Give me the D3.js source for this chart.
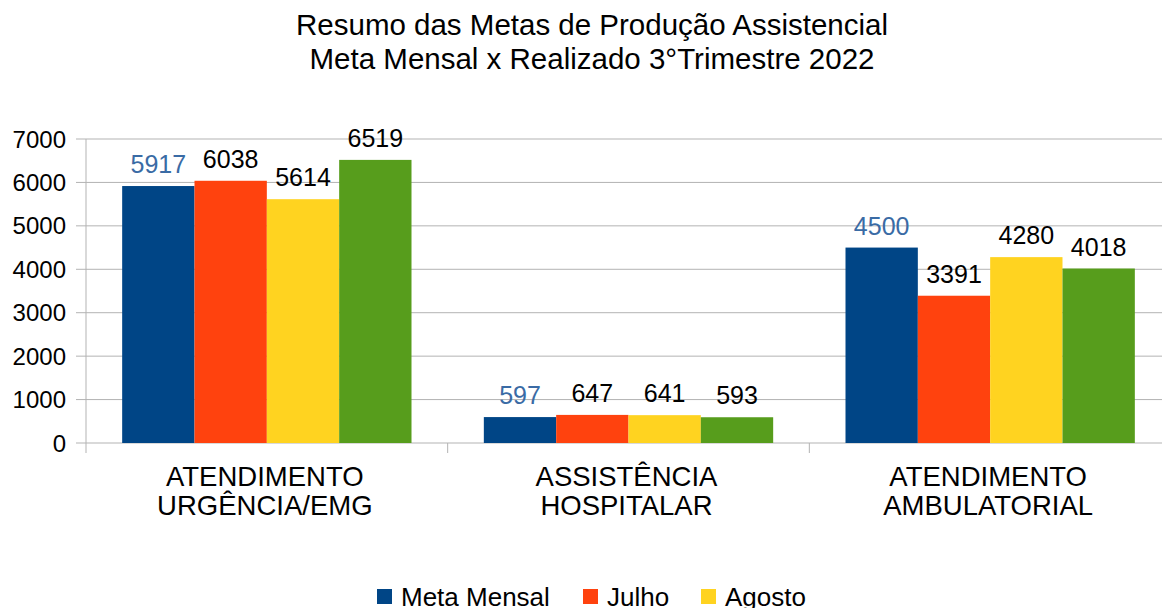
<!DOCTYPE html>
<html>
<head>
<meta charset="utf-8">
<script src="https://cdn.jsdelivr.net/npm/d3@7"></script>
<style>
  body { margin: 0; background: #fff; }
  text { font-family: "Liberation Sans", Arial, sans-serif; }
</style>
</head>
<body>
<div id="container"></div>
<script>
const titleLines = ["Resumo das Metas de Produção Assistencial", "Meta Mensal x Realizado 3°Trimestre 2022"]
const categories = [["ATENDIMENTO", "URGÊNCIA/EMG"], ["ASSISTÊNCIA", "HOSPITALAR"], ["ATENDIMENTO", "AMBULATORIAL"]]
const seriesNames = ["Meta Mensal", "Julho", "Agosto", "Setembro"]
const metaMensal = [5917, 597, 4500]
const julho = [6038, 647, 3391]
const agosto = [5614, 641, 4280]
const setembro = [6519, 593, 4018]
const yTicks = [0, 1000, 2000, 3000, 4000, 5000, 6000, 7000]

const colors = ["#004586", "#ff420e", "#ffd320", "#579d1c"]
const labelColors = ["#3a6ba5", "#000", "#000", "#000"]

const width = 1162, height = 608
const margin = { top: 139, left: 86, bottom: 165 }
const plotRight = 1171

const svg = d3.select('#container').append('svg')
    .attr('width', width).attr('height', height)

// title
svg.append("g").selectAll("text").data(titleLines).join("text")
    .attr("x", 592).attr("y", (d, i) => 35 + i * 34)
    .attr("text-anchor", "middle")
    .attr("font-size", 29.5)
    .text(d => d)

const y = d3.scaleLinear().domain([0, 7000]).range([height - margin.bottom, margin.top])
const x0 = d3.scaleBand().domain(d3.range(categories.length)).range([margin.left, plotRight])
const bw = x0.bandwidth()
const x1 = d3.scaleBand().domain(d3.range(seriesNames.length)).range([bw * 0.1, bw * 0.9])

// gridlines
svg.append("g").selectAll("line").data(yTicks).join("line")
    .attr("x1", margin.left - 10).attr("x2", plotRight)
    .attr("y1", d => y(d)).attr("y2", d => y(d))
    .attr("stroke", "#b3b3b3").attr("stroke-width", 1)

// y axis line
svg.append("line")
    .attr("x1", margin.left).attr("x2", margin.left)
    .attr("y1", y(7000)).attr("y2", y(0) + 10)
    .attr("stroke", "#b3b3b3")

// category separator ticks
svg.append("g").selectAll("line").data([1, 2]).join("line")
    .attr("x1", d => x0(d)).attr("x2", d => x0(d))
    .attr("y1", y(0)).attr("y2", y(0) + 10)
    .attr("stroke", "#b3b3b3")

// y tick labels
svg.append("g").selectAll("text").data(yTicks).join("text")
    .attr("x", margin.left - 20).attr("y", d => y(d) + 8.5)
    .attr("text-anchor", "end")
    .attr("font-size", 24)
    .text(d => d)

const allSeries = [metaMensal, julho, agosto, setembro]

allSeries.forEach((vals, s) => {
    const g = svg.append("g")
    g.selectAll("rect").data(vals).join("rect")
        .attr("x", (d, i) => x0(i) + x1(s))
        .attr("width", x1.bandwidth())
        .attr("y", d => y(d))
        .attr("height", d => y(0) - y(d))
        .attr("fill", colors[s])
    g.selectAll("text").data(vals).join("text")
        .attr("x", (d, i) => x0(i) + x1(s) + x1.bandwidth() / 2)
        .attr("y", d => y(d) - 13)
        .attr("text-anchor", "middle")
        .attr("font-size", 25)
        .attr("fill", labelColors[s])
        .text(d => d)
})

// category labels
categories.forEach((lines, i) => {
    svg.append("text")
        .attr("x", x0(i) + bw / 2)
        .attr("text-anchor", "middle")
        .attr("font-size", 27.5)
        .selectAll("tspan").data(lines).join("tspan")
        .attr("x", x0(i) + bw / 2 - 2)
        .attr("y", (d, j) => 486 + j * 29)
        .text(d => d)
})

// legend (only the first row fits in the frame)
const legendX = [377, 583, 701]
const legend = svg.append("g")
seriesNames.slice(0, 3).forEach((name, i) => {
    legend.append("rect")
        .attr("x", legendX[i]).attr("y", 589)
        .attr("width", 15).attr("height", 15)
        .attr("fill", colors[i])
    legend.append("text")
        .attr("x", legendX[i] + 24).attr("y", 606)
        .attr("font-size", 26)
        .text(name)
})
</script>
</body>
</html>
